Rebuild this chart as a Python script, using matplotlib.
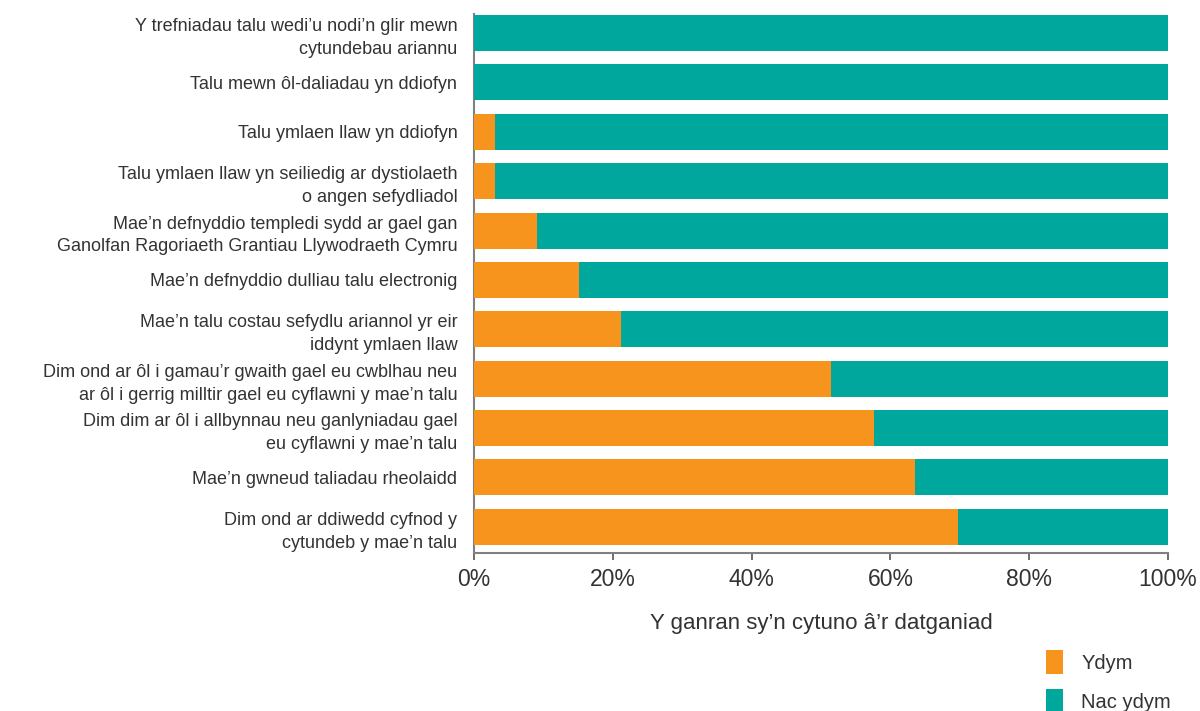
import matplotlib
matplotlib.use("Agg")
import matplotlib.pyplot as plt
import numpy as np

plt.rcParams['font.family'] = ['Liberation Sans', 'DejaVu Sans']

categories = [
    "Y trefniadau talu wedi\u2019u nodi\u2019n glir mewn\ncytundebau ariannu",
    "Talu mewn \u00f4l-daliadau yn ddiofyn",
    "Talu ymlaen llaw yn ddiofyn",
    "Talu ymlaen llaw yn seiliedig ar dystiolaeth\no angen sefydliadol",
    "Mae\u2019n defnyddio templedi sydd ar gael gan\nGanolfan Ragoriaeth Grantiau Llywodraeth Cymru",
    "Mae\u2019n defnyddio dulliau talu electronig",
    "Mae\u2019n talu costau sefydlu ariannol yr eir\niddynt ymlaen llaw",
    "Dim ond ar \u00f4l i gamau\u2019r gwaith gael eu cwblhau neu\nar \u00f4l i gerrig milltir gael eu cyflawni y mae\u2019n talu",
    "Dim dim ar \u00f4l i allbynnau neu ganlyniadau gael\neu cyflawni y mae\u2019n talu",
    "Mae\u2019n gwneud taliadau rheolaidd",
    "Dim ond ar ddiwedd cyfnod y\ncytundeb y mae\u2019n talu",
]
ydym = [0.0, 0.0, 3.0, 3.0, 9.1, 15.2, 21.2, 51.5, 57.6, 63.6, 69.7]
nac_ydym = [100 - v for v in ydym]
series_names = ["Ydym", "Nac ydym"]
xticks = [0, 20, 40, 60, 80, 100]
xlabel = "Y ganran sy\u2019n cytuno \u00e2\u2019r datganiad"

orange = "#F7941D"
teal = "#00A79D"
txt = "#333333"

fig = plt.figure(figsize=(12, 7.11), dpi=100)
ax = fig.add_axes([474/1200, 1 - 553/711, (1168-474)/1200, (553-14)/711])

y = np.arange(len(categories))
h = 0.73
ax.barh(y, ydym, height=h, color=orange, label=series_names[0], zorder=3)
ax.barh(y, nac_ydym, left=ydym, height=h, color=teal, label=series_names[1], zorder=3)

ax.set_ylim(len(categories) - 1 + 0.53, -0.385)
ax.set_xlim(0, 100)
ax.set_yticks(y)
ax.set_yticklabels(categories, fontsize=13, color=txt, linespacing=1.45)
ax.tick_params(axis='y', length=0, pad=12)
ax.set_xticks(xticks)
ax.set_xticklabels([f"{v}%" for v in xticks], fontsize=16.5, color=txt)
ax.tick_params(axis='x', length=5, width=1.2, color="#555555", pad=6)
ax.set_xlabel(xlabel, fontsize=16, color=txt, labelpad=16)

for s in ['top', 'right']:
    ax.spines[s].set_visible(False)
for s in ['left', 'bottom']:
    ax.spines[s].set_color("#808080")
    ax.spines[s].set_linewidth(1.5)

leg = fig.legend(loc='upper left', bbox_to_anchor=(1036/1200, 1 - 640/711),
                 frameon=False, fontsize=14.5, handlelength=0.85, handleheight=1.45,
                 labelspacing=0.75, handletextpad=0.9, borderpad=0)
for t in leg.get_texts():
    t.set_color(txt)

fig.savefig("out.png", dpi=100)
